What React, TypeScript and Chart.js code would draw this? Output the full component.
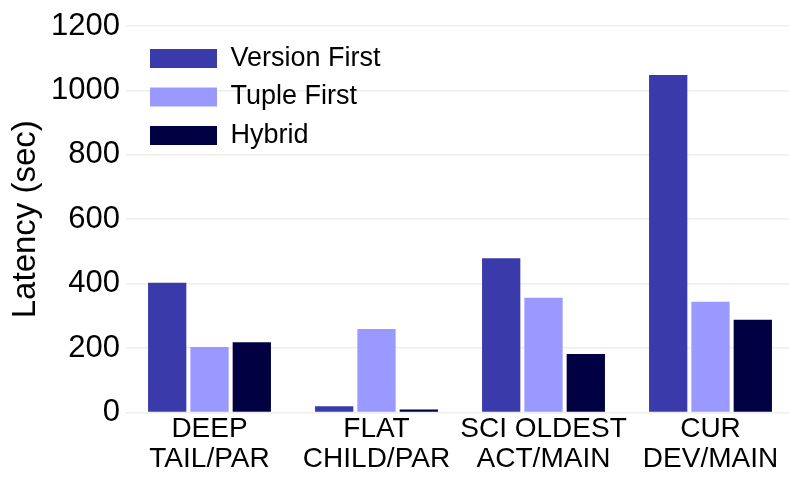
import React, { useEffect, useRef } from "react";
import { Chart, registerables } from "chart.js";

Chart.register(...registerables);

const categories: string[][] = [
  ["DEEP", "TAIL/PAR"],
  ["FLAT", "CHILD/PAR"],
  ["SCI OLDEST", "ACT/MAIN"],
  ["CUR", "DEV/MAIN"],
];
const versionFirst = [403, 19, 479, 1048];
const tupleFirst = [203, 259, 356, 344];
const hybrid = [218, 9, 181, 288];
const seriesNames = ["Version First", "Tuple First", "Hybrid"];
const seriesColors = ["#3a3aab", "#9999ff", "#000042"];
const yTitle = "Latency (sec)";
const yMin = 0;
const yMax = 1200;
const yStep = 200;

const FONT = "'Liberation Sans', Arial, Helvetica, sans-serif";

const legendShift = {
  id: "legendShift",
  afterUpdate(chart: any) {
    const lg = chart.legend;
    if (lg) {
      lg.left += 12.5;
      lg.top += 33.5;
    }
  },
};

export default function App() {
  const ref = useRef<HTMLCanvasElement | null>(null);
  useEffect(() => {
    document.body.style.margin = "0";
    document.body.style.overflow = "hidden";
    const canvas = ref.current;
    if (!canvas) return;
    const chart = new Chart(canvas, {
      type: "bar",
      data: {
        labels: categories,
        datasets: [
          { label: seriesNames[0], data: versionFirst, backgroundColor: seriesColors[0] },
          { label: seriesNames[1], data: tupleFirst, backgroundColor: seriesColors[1] },
          { label: seriesNames[2], data: hybrid, backgroundColor: seriesColors[2] },
        ],
      },
      options: {
        responsive: false,
        animation: false,
        layout: { padding: { top: 26, bottom: 2, right: 0, left: 0 } },
        datasets: {
          bar: { categoryPercentage: 0.76, barPercentage: 0.905 },
        },
        plugins: {
          tooltip: { enabled: false },
          legend: {
            position: "chartArea",
            align: "start",
            labels: {
              boxWidth: 67,
              boxHeight: 19,
              padding: 11.5,
              color: "#000",
              font: { family: FONT, size: 27 },
            },
          },
        },
        scales: {
          x: {
            grid: { display: false, drawTicks: false },
            border: { display: false },
            ticks: {
              color: "#000",
              padding: 1,
              maxRotation: 0,
              autoSkip: false,
              font: { family: FONT, size: 28, lineHeight: 1.1 },
            },
          },
          y: {
            min: yMin,
            max: yMax,
            ticks: {
              stepSize: yStep,
              color: "#000",
              padding: 6,
              font: { family: FONT, size: 31 },
              callback: (v: any) => String(v),
            },
            grid: { color: "#eeeeee", lineWidth: 1.5, drawTicks: false },
            border: { display: false },
            title: {
              display: true,
              text: yTitle,
              color: "#000",
              padding: { top: 6, bottom: 0 },
              font: { family: FONT, size: 33 },
            },
            afterFit: (scale: any) => {
              scale.width = 126;
            },
          },
        },
      },
      plugins: [legendShift],
    });
    return () => chart.destroy();
  }, []);
  return (
    <div style={{ width: 789, height: 478, overflow: "hidden" }}>
      <canvas ref={ref} width={794} height={478} style={{ display: "block" }} />
    </div>
  );
}
